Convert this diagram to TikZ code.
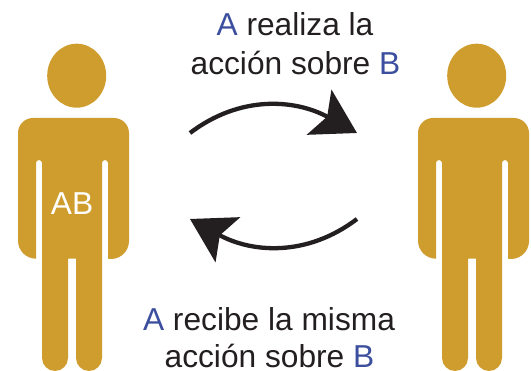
\documentclass[tikz,border=0pt]{standalone}
\usepackage{fontspec}
\setmainfont{Liberation Sans}
\usetikzlibrary{arrows.meta}
\definecolor{oro}{HTML}{CF9D2D}
\definecolor{azul}{HTML}{3C4F9F}
\definecolor{negro}{HTML}{231F20}
\tikzset{
 texto/.style={anchor=base,inner sep=0pt,text=negro,font=\fontsize{31.7}{36}\selectfont},
 flecha/.style={draw=negro,line width=4.3pt,-{Stealth[length=43pt,width=51pt,inset=9pt]}},
 pics/persona/.style={code={
  \fill[oro] (76.7,295.3) ellipse [x radius=29.5,y radius=32];
  \fill[oro] (18,238) arc[start angle=180,end angle=90,radius=15] -- (114,253)
   arc[start angle=90,end angle=0,radius=15] -- (129,130)
   arc[start angle=0,end angle=-90,radius=18] -- (108,112.3) -- (108,208)
   arc[start angle=0,end angle=180,radius=3] -- (102,13)
   arc[start angle=0,end angle=-180,radius=13] -- (76,112.3) -- (68,112.3) -- (68,13)
   arc[start angle=0,end angle=-180,radius=13] -- (42,208)
   arc[start angle=0,end angle=180,radius=3] -- (36,112.3)
   arc[start angle=-90,end angle=-180,radius=18] -- cycle;
 }}
}
\begin{document}
\begin{tikzpicture}[x=1pt,y=1pt]
 \useasboundingbox (0,0) rectangle (531,371);
 \pic (izq) at (0,0) {persona};
 \pic (der) at (400,0) {persona};
 \node (ab) at (72,156) [texto,text=white] {AB};
 \node (arriba 1) at (295,335) [texto] {\textcolor{azul}{A} realiza la};
 \node (arriba 2) at (295.5,296) [texto] {acción sobre \textcolor{azul}{B}};
 \node (abajo 1) at (269,40) [texto] {\textcolor{azul}{A} recibe la misma};
 \node (abajo 2) at (269.5,3) [texto] {acción sobre \textcolor{azul}{B}};
 \coordinate (ini 1) at (190,238);
 \coordinate (fin 1) at (357,238);
 \coordinate (ini 2) at (357,152);
 \coordinate (fin 2) at (190,152);
 \draw[flecha] (ini 1) .. controls (240,276) and (295,272) .. (fin 1);
 \draw[flecha] (ini 2) .. controls (307,114) and (252,118) .. (fin 2);
\end{tikzpicture}
\end{document}
